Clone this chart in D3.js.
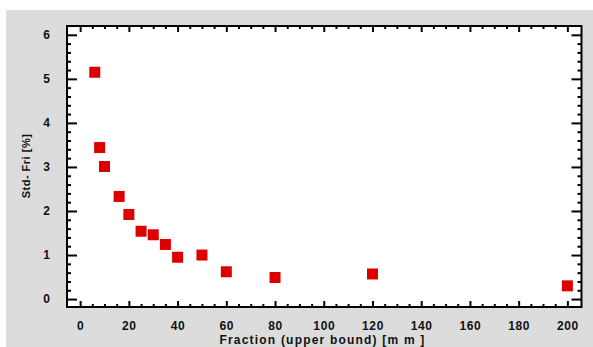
<!DOCTYPE html>
<html>
<head>
<meta charset="utf-8">
<script src="https://d3js.org/d3.v7.min.js"></script>
<style>
  body { margin: 0; background: #fff; }
  svg text { font-family: "Liberation Sans", Arial, sans-serif !important; font-weight: 700 !important; fill: #111; }
</style>
</head>
<body>
<script>
var svgWidth = 593;
var svgHeight = 347;

// data
var fraction = [6, 8, 10, 16, 20, 25, 30, 35, 40, 50, 60, 80, 120, 200];
var stdFri = [5.15, 3.44, 3.01, 2.33, 1.92, 1.54, 1.46, 1.24, 0.95, 1.0, 0.62, 0.49, 0.57, 0.30];
var xTicks = [0, 20, 40, 60, 80, 100, 120, 140, 160, 180, 200];
var yTicks = [0, 1, 2, 3, 4, 5, 6];

var plot = { left: 67, top: 26, right: 581.5, bottom: 307 };

var svg = d3.select("body")
            .append("svg")
            .attr("width", svgWidth)
            .attr("height", svgHeight);

svg.append("rect")
   .attr("x", 6).attr("y", 10)
   .attr("width", svgWidth - 6).attr("height", svgHeight - 10)
   .attr("fill", "#dcdcdc");

svg.append("rect")
   .attr("x", plot.left).attr("y", plot.top)
   .attr("width", plot.right - plot.left).attr("height", plot.bottom - plot.top)
   .attr("fill", "#fff");

var xScale = d3.scaleLinear().domain([-5.4, 205.8]).range([plot.left, plot.right]);
var yScale = d3.scaleLinear().domain([-0.18, 6.2]).range([plot.bottom, plot.top]);

var xMinor = d3.range(0, 205, 5).filter(d => d % 20 !== 0);
var yMinor = d3.range(0, 6.2, 0.2).map(d => +d.toFixed(1)).filter(d => Math.abs(d - Math.round(d)) > 0.01);

function addTicks(g, axis) {
    g.call(axis);
    g.select(".domain").remove();
    g.selectAll("line").attr("stroke", "#000").attr("stroke-width", 2);
    g.selectAll("text").attr("font-weight", "bold").attr("font-family", "Liberation Sans, Arial, sans-serif");
    return g;
}

// bottom axis (ticks inward)
var bottomG = svg.append("g").attr("transform", `translate(0, ${plot.bottom})`);
addTicks(bottomG, d3.axisBottom(xScale).tickValues(xTicks).tickSizeInner(-6).tickSizeOuter(0).tickPadding(14).tickFormat(d3.format("d")));
bottomG.selectAll("text").attr("font-size", 12).attr("letter-spacing", 0.6);
var bottomMinor = svg.append("g").attr("transform", `translate(0, ${plot.bottom})`);
addTicks(bottomMinor, d3.axisBottom(xScale).tickValues(xMinor).tickSizeInner(-3).tickSizeOuter(0).tickFormat(""));

// top axis
var topG = svg.append("g").attr("transform", `translate(0, ${plot.top})`);
addTicks(topG, d3.axisTop(xScale).tickValues(xTicks).tickSizeInner(-6).tickSizeOuter(0).tickFormat(""));
var topMinor = svg.append("g").attr("transform", `translate(0, ${plot.top})`);
addTicks(topMinor, d3.axisTop(xScale).tickValues(xMinor).tickSizeInner(-3).tickSizeOuter(0).tickFormat(""));

// left axis
var leftG = svg.append("g").attr("transform", `translate(${plot.left}, 0)`);
addTicks(leftG, d3.axisLeft(yScale).tickValues(yTicks).tickSizeInner(-10).tickSizeOuter(0).tickPadding(17).tickFormat(d3.format("d")));
leftG.selectAll("text").attr("font-size", 12);
var leftMinor = svg.append("g").attr("transform", `translate(${plot.left}, 0)`);
addTicks(leftMinor, d3.axisLeft(yScale).tickValues(yMinor).tickSizeInner(-4).tickSizeOuter(0).tickFormat(""));

// right axis
var rightG = svg.append("g").attr("transform", `translate(${plot.right}, 0)`);
addTicks(rightG, d3.axisRight(yScale).tickValues(yTicks).tickSizeInner(-10).tickSizeOuter(0).tickFormat(""));
var rightMinor = svg.append("g").attr("transform", `translate(${plot.right}, 0)`);
addTicks(rightMinor, d3.axisRight(yScale).tickValues(yMinor).tickSizeInner(-4).tickSizeOuter(0).tickFormat(""));

// frame
svg.append("rect")
   .attr("x", plot.left).attr("y", plot.top)
   .attr("width", plot.right - plot.left).attr("height", plot.bottom - plot.top)
   .attr("fill", "none")
   .attr("stroke", "#000")
   .attr("stroke-width", 2);

// points
var sq = 11;
svg.append("g")
   .selectAll("rect")
   .data(fraction)
   .enter()
   .append("rect")
   .attr("x", (d, i) => xScale(d) - sq / 2)
   .attr("y", (d, i) => yScale(stdFri[i]) - sq / 2)
   .attr("width", sq)
   .attr("height", sq)
   .attr("fill", "#dd0000");

// axis titles
var xTitle = svg.append("text")
   .attr("x", 322.5)
   .attr("y", 344)
   .attr("text-anchor", "middle")
   .attr("font-size", 12)
   .attr("letter-spacing", 1.2)
   .attr("word-spacing", 0)
   .text("Fraction (upper bound) [m m ]");

svg.append("text")
   .attr("transform", "translate(30, 166) rotate(-90)")
   .attr("text-anchor", "middle")
   .attr("font-size", 11)
   .attr("letter-spacing", 0.5)
   .text("Std- Fri [%]");
</script>
</body>
</html>
